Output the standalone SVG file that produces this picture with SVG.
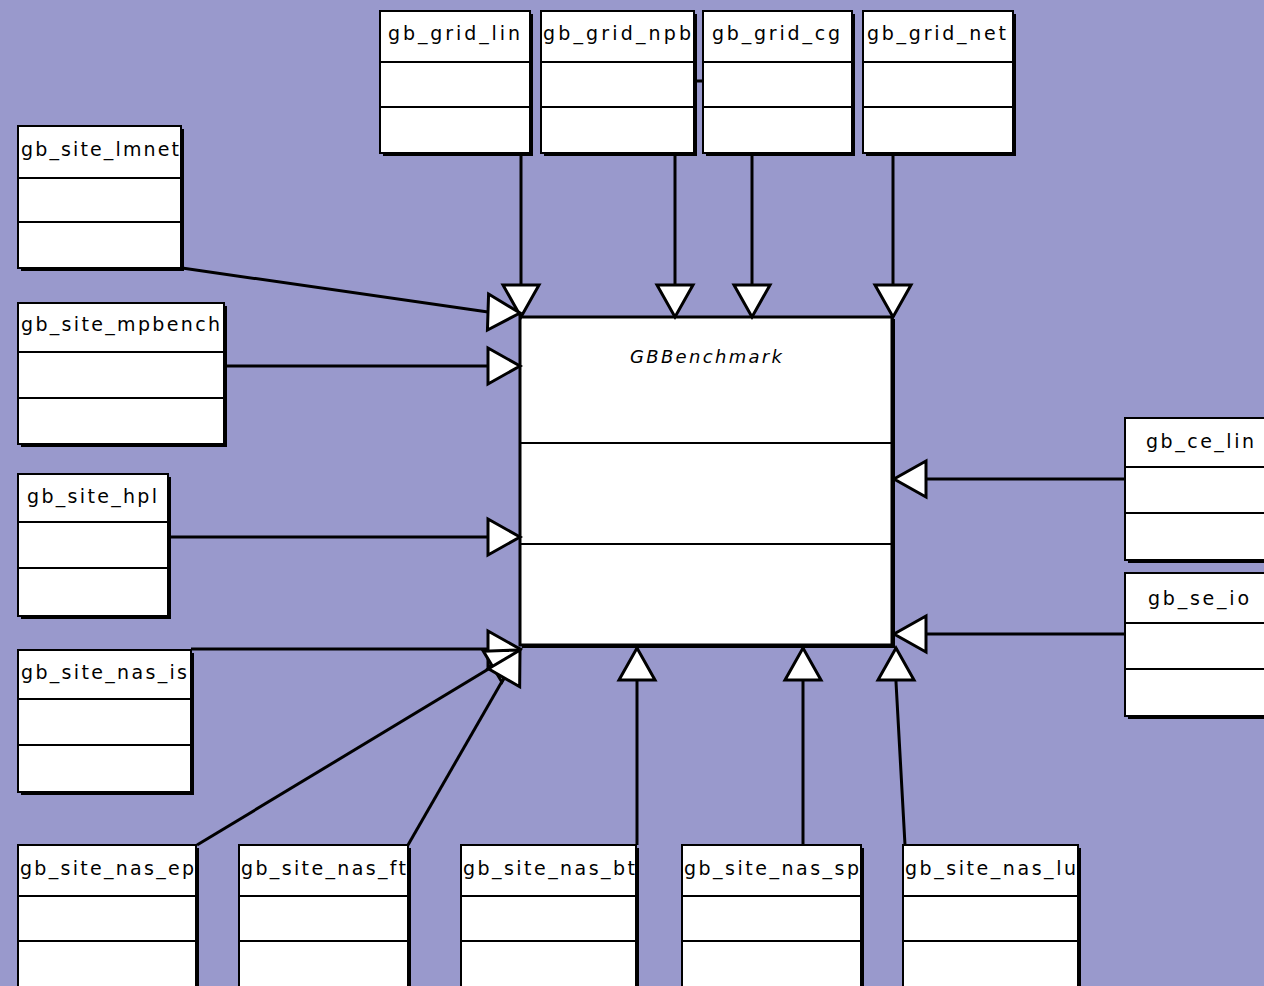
<svg xmlns="http://www.w3.org/2000/svg" width="1264" height="986" viewBox="0 0 1264 986">
  <style>
    .shadow { fill: #000; }
    .box { fill: #fff; stroke: #000; stroke-width: 2; }
    .main { fill: #fff; stroke: #000; stroke-width: 3; }
    .sep { stroke: #000; stroke-width: 2; }
    .lbl { font-family: "DejaVu Sans", "Liberation Sans", sans-serif; font-size: 19px; fill: #000; }
    .title { font-family: "DejaVu Sans", "Liberation Sans", sans-serif; font-size: 18px; font-style: italic; fill: #000; }
    .edge { fill: none; stroke: #000; stroke-width: 3; marker-end: url(#tri); }
    .stub { fill: none; stroke: #000; stroke-width: 3; }
  </style>
  <defs>
    <!-- hollow generalization arrowhead -->
    <marker id="tri" markerUnits="userSpaceOnUse" viewBox="-2 -2 36 40" refX="32" refY="18" markerWidth="36" markerHeight="40" orient="auto" overflow="visible">
      <path d="M0 0 L32 18 L0 36 Z" fill="#fff" stroke="#000" stroke-width="3"/>
    </marker>
  </defs>

  <rect width="1264" height="986" fill="#9999cc"/>

  <!-- central abstract class -->
  <g id="GBBenchmark">
    <rect class="shadow" x="522" y="319" width="373" height="329"/>
    <rect class="main" x="520" y="317" width="372" height="328"/>
    <line class="sep" x1="520" y1="443" x2="892" y2="443"/>
    <line class="sep" x1="520" y1="544" x2="892" y2="544"/>
    <text class="title" x="630" y="363" textLength="152" lengthAdjust="spacing">GBBenchmark</text>
  </g>

  <!-- top row -->
  <g id="gb_grid_lin">
    <rect class="shadow" x="383" y="14" width="150" height="142"/>
    <rect class="box" x="380" y="11" width="150" height="142"/>
    <line class="sep" x1="380" y1="62" x2="530" y2="62"/>
    <line class="sep" x1="380" y1="107" x2="530" y2="107"/>
    <text class="lbl" x="388" y="40" textLength="132" lengthAdjust="spacing">gb_grid_lin</text>
  </g>
  <g id="gb_grid_npb">
    <rect class="shadow" x="544" y="14" width="153" height="142"/>
    <rect class="box" x="541" y="11" width="153" height="142"/>
    <line class="sep" x1="541" y1="62" x2="694" y2="62"/>
    <line class="sep" x1="541" y1="107" x2="694" y2="107"/>
    <text class="lbl" x="543" y="40" textLength="148" lengthAdjust="spacing">gb_grid_npb</text>
  </g>
  <g id="gb_grid_cg">
    <rect class="shadow" x="706" y="14" width="149" height="142"/>
    <rect class="box" x="703" y="11" width="149" height="142"/>
    <line class="sep" x1="703" y1="62" x2="852" y2="62"/>
    <line class="sep" x1="703" y1="107" x2="852" y2="107"/>
    <text class="lbl" x="712" y="40" textLength="128" lengthAdjust="spacing">gb_grid_cg</text>
  </g>
  <g id="gb_grid_net">
    <rect class="shadow" x="866" y="14" width="150" height="142"/>
    <rect class="box" x="863" y="11" width="150" height="142"/>
    <line class="sep" x1="863" y1="62" x2="1013" y2="62"/>
    <line class="sep" x1="863" y1="107" x2="1013" y2="107"/>
    <text class="lbl" x="867" y="40" textLength="139" lengthAdjust="spacing">gb_grid_net</text>
  </g>

  <!-- left column -->
  <g id="gb_site_lmnet">
    <rect class="shadow" x="21" y="129" width="163" height="142"/>
    <rect class="box" x="18" y="126" width="163" height="142"/>
    <line class="sep" x1="18" y1="178" x2="181" y2="178"/>
    <line class="sep" x1="18" y1="222" x2="181" y2="222"/>
    <text class="lbl" x="21" y="156" textLength="158" lengthAdjust="spacing">gb_site_lmnet</text>
  </g>
  <g id="gb_site_mpbench">
    <rect class="shadow" x="21" y="306" width="206" height="141"/>
    <rect class="box" x="18" y="303" width="206" height="141"/>
    <line class="sep" x1="18" y1="352" x2="224" y2="352"/>
    <line class="sep" x1="18" y1="398" x2="224" y2="398"/>
    <text class="lbl" x="21" y="331" textLength="199" lengthAdjust="spacing">gb_site_mpbench</text>
  </g>
  <g id="gb_site_hpl">
    <rect class="shadow" x="21" y="477" width="150" height="142"/>
    <rect class="box" x="18" y="474" width="150" height="142"/>
    <line class="sep" x1="18" y1="522" x2="168" y2="522"/>
    <line class="sep" x1="18" y1="568" x2="168" y2="568"/>
    <text class="lbl" x="27" y="503" textLength="130" lengthAdjust="spacing">gb_site_hpl</text>
  </g>
  <g id="gb_site_nas_is">
    <rect class="shadow" x="21" y="653" width="173" height="142"/>
    <rect class="box" x="18" y="650" width="173" height="142"/>
    <line class="sep" x1="18" y1="699" x2="191" y2="699"/>
    <line class="sep" x1="18" y1="745" x2="191" y2="745"/>
    <text class="lbl" x="21" y="679" textLength="166" lengthAdjust="spacing">gb_site_nas_is</text>
  </g>

  <!-- bottom row -->
  <g id="gb_site_nas_ep">
    <rect class="shadow" x="21" y="848" width="178" height="160"/>
    <rect class="box" x="18" y="845" width="178" height="160"/>
    <line class="sep" x1="18" y1="896" x2="196" y2="896"/>
    <line class="sep" x1="18" y1="941" x2="196" y2="941"/>
    <text class="lbl" x="20" y="875" textLength="174" lengthAdjust="spacing">gb_site_nas_ep</text>
  </g>
  <g id="gb_site_nas_ft">
    <rect class="shadow" x="242" y="848" width="169" height="160"/>
    <rect class="box" x="239" y="845" width="169" height="160"/>
    <line class="sep" x1="239" y1="896" x2="408" y2="896"/>
    <line class="sep" x1="239" y1="941" x2="408" y2="941"/>
    <text class="lbl" x="241" y="875" textLength="165" lengthAdjust="spacing">gb_site_nas_ft</text>
  </g>
  <g id="gb_site_nas_bt">
    <rect class="shadow" x="464" y="848" width="175" height="160"/>
    <rect class="box" x="461" y="845" width="175" height="160"/>
    <line class="sep" x1="461" y1="896" x2="636" y2="896"/>
    <line class="sep" x1="461" y1="941" x2="636" y2="941"/>
    <text class="lbl" x="463" y="875" textLength="172" lengthAdjust="spacing">gb_site_nas_bt</text>
  </g>
  <g id="gb_site_nas_sp">
    <rect class="shadow" x="685" y="848" width="179" height="160"/>
    <rect class="box" x="682" y="845" width="179" height="160"/>
    <line class="sep" x1="682" y1="896" x2="861" y2="896"/>
    <line class="sep" x1="682" y1="941" x2="861" y2="941"/>
    <text class="lbl" x="684" y="875" textLength="175" lengthAdjust="spacing">gb_site_nas_sp</text>
  </g>
  <g id="gb_site_nas_lu">
    <rect class="shadow" x="906" y="848" width="175" height="160"/>
    <rect class="box" x="903" y="845" width="175" height="160"/>
    <line class="sep" x1="903" y1="896" x2="1078" y2="896"/>
    <line class="sep" x1="903" y1="941" x2="1078" y2="941"/>
    <text class="lbl" x="905" y="875" textLength="171" lengthAdjust="spacing">gb_site_nas_lu</text>
  </g>

  <!-- right column -->
  <g id="gb_ce_lin">
    <rect class="shadow" x="1128" y="421" width="160" height="142"/>
    <rect class="box" x="1125" y="418" width="160" height="142"/>
    <line class="sep" x1="1125" y1="467" x2="1285" y2="467"/>
    <line class="sep" x1="1125" y1="513" x2="1285" y2="513"/>
    <text class="lbl" x="1146" y="448" textLength="108" lengthAdjust="spacing">gb_ce_lin</text>
  </g>
  <g id="gb_se_io">
    <rect class="shadow" x="1128" y="576" width="160" height="143"/>
    <rect class="box" x="1125" y="573" width="160" height="143"/>
    <line class="sep" x1="1125" y1="623" x2="1285" y2="623"/>
    <line class="sep" x1="1125" y1="669" x2="1285" y2="669"/>
    <text class="lbl" x="1148" y="605" textLength="101" lengthAdjust="spacing">gb_se_io</text>
  </g>

  <!-- generalization connectors -->
  <g id="connectors">
    <line class="stub" x1="694" y1="81" x2="703" y2="81"/>
    <path class="edge" d="M521 155 L521 317"/>
    <path class="edge" d="M675 155 L675 317"/>
    <path class="edge" d="M752 155 L752 317"/>
    <path class="edge" d="M893 155 L893 317"/>
    <path class="edge" d="M182 268 L488 312 L520 313"/>
    <path class="edge" d="M224 366 L520 366"/>
    <path class="edge" d="M168 537 L520 537"/>
    <path class="edge" d="M191 649 L520 649"/>
    <path class="edge" d="M197 845 L520 650"/>
    <path class="edge" d="M408 845 L520 650"/>
    <path class="edge" d="M637 845 L637 648"/>
    <path class="edge" d="M803 845 L803 648"/>
    <path class="edge" d="M905 845 L896 682 L896 648"/>
    <path class="edge" d="M1125 479 L894 479"/>
    <path class="edge" d="M1125 634 L894 634"/>
  </g>
</svg>
